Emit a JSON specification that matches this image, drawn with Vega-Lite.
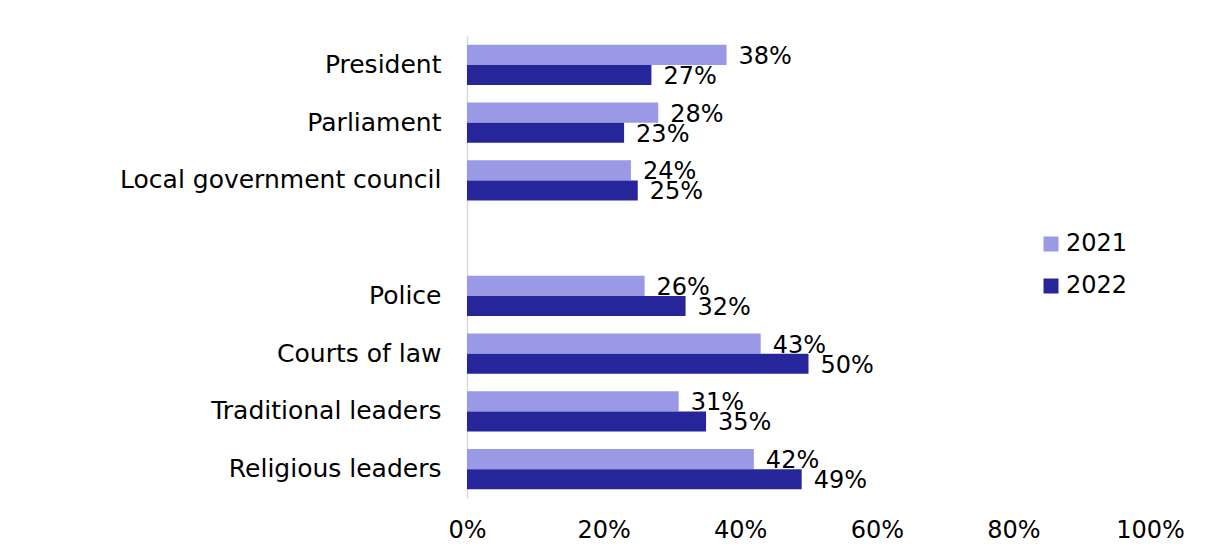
{
  "$schema": "https://vega.github.io/schema/vega-lite/v6.json",
  "autosize": {"type": "none"},
  "padding": {"left": 467, "top": 36, "right": 55, "bottom": 49},
  "width": 683,
  "height": 462,
  "background": "white",
  "config": {
    "view": {"stroke": null},
    "font": "DejaVu Sans",
    "text": {"font": "DejaVu Sans"}
  },
  "data": {
    "values": [
      {"category": "President", "year": "2021", "value": 0.38},
      {"category": "President", "year": "2022", "value": 0.27},
      {"category": "Parliament", "year": "2021", "value": 0.28},
      {"category": "Parliament", "year": "2022", "value": 0.23},
      {"category": "Local government council", "year": "2021", "value": 0.24},
      {"category": "Local government council", "year": "2022", "value": 0.25},
      {"category": "Police", "year": "2021", "value": 0.26},
      {"category": "Police", "year": "2022", "value": 0.32},
      {"category": "Courts of law", "year": "2021", "value": 0.43},
      {"category": "Courts of law", "year": "2022", "value": 0.50},
      {"category": "Traditional leaders", "year": "2021", "value": 0.31},
      {"category": "Traditional leaders", "year": "2022", "value": 0.35},
      {"category": "Religious leaders", "year": "2021", "value": 0.42},
      {"category": "Religious leaders", "year": "2022", "value": 0.49}
    ]
  },
  "encoding": {
    "y": {
      "field": "category",
      "type": "nominal",
      "scale": {
        "domain": ["President", "Parliament", "Local government council", " ", "Police", "Courts of law", "Traditional leaders", "Religious leaders"],
        "paddingInner": 0.3,
        "paddingOuter": 0.15
      },
      "axis": {
        "title": null,
        "ticks": false,
        "domain": true,
        "domainColor": "#d9d9d9",
        "domainWidth": 1.5,
        "labelPadding": 26,
        "labelFontSize": 25,
        "labelLimit": 0,
        "labelColor": "#000000",
        "labelFont": "DejaVu Sans"
      }
    },
    "yOffset": {"field": "year", "type": "nominal", "scale": {"domain": ["2021", "2022"]}},
    "x": {
      "field": "value",
      "type": "quantitative",
      "scale": {"domain": [0, 1]},
      "axis": {
        "title": null,
        "format": ".0%",
        "values": [0, 0.2, 0.4, 0.6, 0.8, 1],
        "grid": false,
        "ticks": false,
        "domain": false,
        "labelFlush": false,
        "labelPadding": 20,
        "labelFontSize": 24,
        "labelColor": "#000000",
        "labelFont": "DejaVu Sans"
      }
    }
  },
  "layer": [
    {
      "mark": {"type": "bar"},
      "encoding": {
        "color": {
          "field": "year",
          "type": "nominal",
          "scale": {"domain": ["2021", "2022"], "range": ["#9999E6", "#26269A"]},
          "legend": {
            "title": null,
            "orient": "none",
            "legendX": 572,
            "legendY": 196,
            "symbolType": "square",
            "symbolSize": 225,
            "symbolOpacity": 1,
            "labelFontSize": 24,
            "labelColor": "#000000",
            "labelFont": "DejaVu Sans",
            "rowPadding": 18,
            "padding": 0,
            "labelOffset": 3
          }
        }
      }
    },
    {
      "mark": {"type": "text", "align": "left", "baseline": "middle", "dx": 12, "dy": 2, "fontSize": 24, "color": "#000000"},
      "encoding": {
        "text": {"field": "value", "type": "quantitative", "format": ".0%"}
      }
    }
  ]
}
